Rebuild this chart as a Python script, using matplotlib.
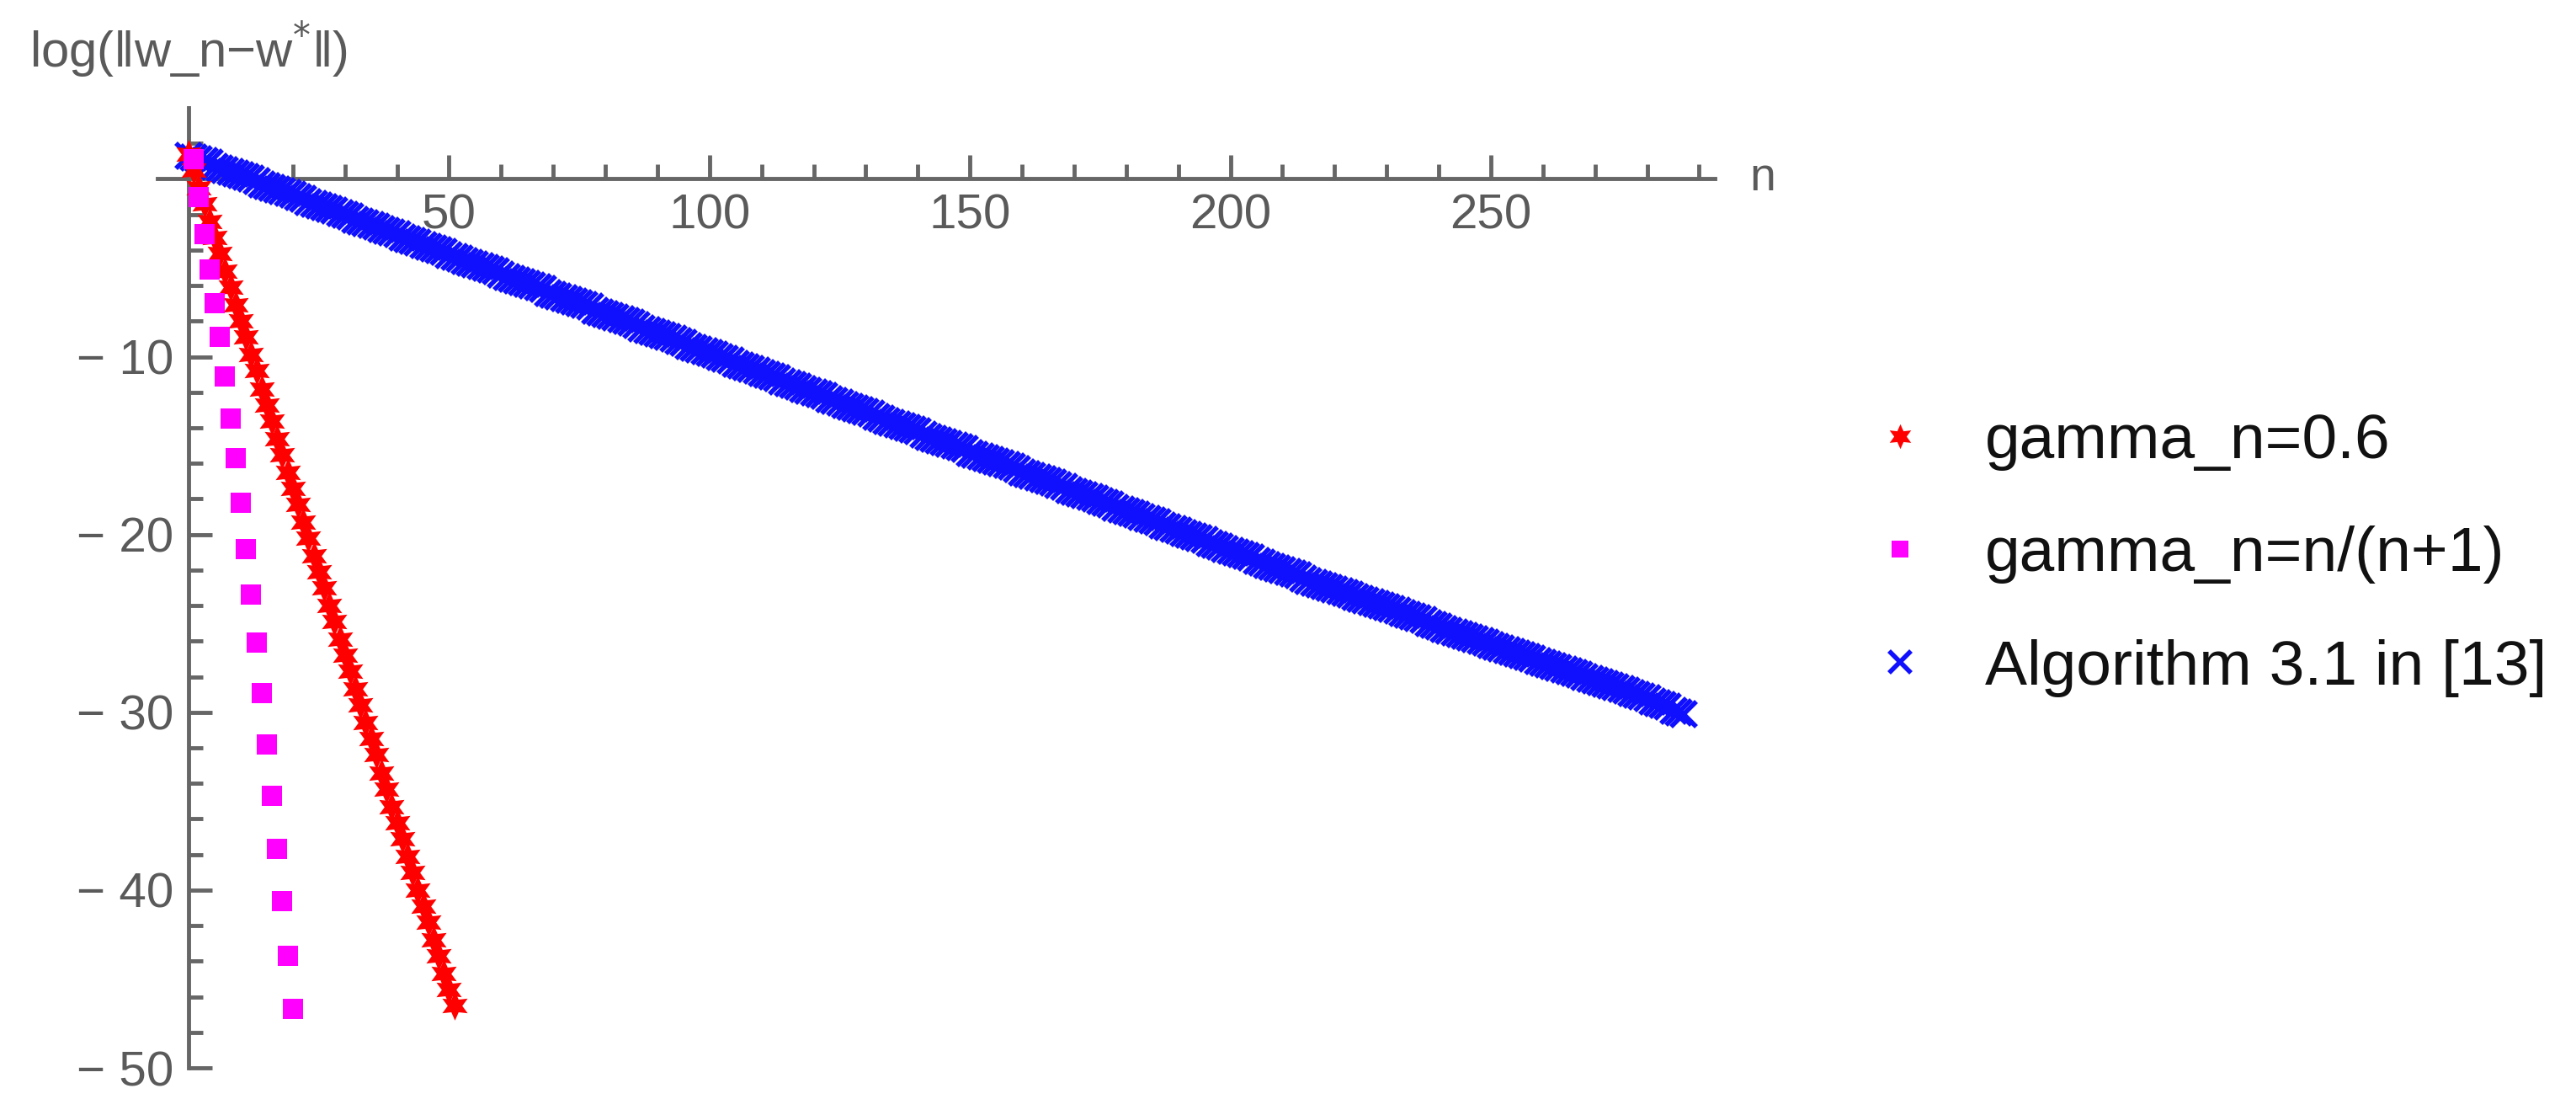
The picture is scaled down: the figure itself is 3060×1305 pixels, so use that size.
import matplotlib
matplotlib.use("Agg")
import matplotlib.pyplot as plt
from matplotlib.ticker import FixedLocator
import matplotlib.transforms as mtransforms

plt.rcParams['font.family'] = ['Liberation Sans', 'DejaVu Sans']

# ---------------- data ----------------
red_label = "gamma_n=0.6"
red_n = list(range(0, 52))
red_v = [1.4, 0.5, -0.5, -1.4, -2.4, -3.3, -4.2, -5.2, -6.1, -7.1,
         -8.0, -8.9, -9.9, -10.8, -11.8, -12.7, -13.6, -14.6, -15.5, -16.5,
         -17.4, -18.3, -19.3, -20.2, -21.2, -22.1, -23.0, -24.0, -24.9, -25.9,
         -26.8, -27.7, -28.7, -29.6, -30.6, -31.5, -32.4, -33.4, -34.3, -35.3,
         -36.2, -37.1, -38.1, -39.0, -40.0, -40.9, -41.8, -42.8, -43.7, -44.7,
         -45.6, -46.5]

mag_label = "gamma_n=n/(n+1)"
mag_n = list(range(1, 21))
mag_v = [1.1, -1.0, -3.1, -5.1, -7.0, -8.9, -11.1, -13.5, -15.7, -18.2,
         -20.8, -23.4, -26.1, -28.9, -31.8, -34.7, -37.7, -40.6, -43.7, -46.7]

blue_label = "Algorithm 3.1 in [13]"
blue_n = list(range(0, 288))
blue_v = [1.3, 1.2, 1.1, 1.0, 0.9, 0.7, 0.6, 0.5, 0.4, 0.3,
          0.2, 0.1, 0.0, -0.1, -0.3, -0.4, -0.5, -0.6, -0.7, -0.8,
          -0.9, -1.0, -1.1, -1.3, -1.4, -1.5, -1.6, -1.7, -1.8, -1.9,
          -2.0, -2.1, -2.3, -2.4, -2.5, -2.6, -2.7, -2.8, -2.9, -3.0,
          -3.1, -3.3, -3.4, -3.5, -3.6, -3.7, -3.8, -3.9, -4.0, -4.1,
          -4.3, -4.4, -4.5, -4.6, -4.7, -4.8, -4.9, -5.0, -5.1, -5.2,
          -5.4, -5.5, -5.6, -5.7, -5.8, -5.9, -6.0, -6.1, -6.2, -6.4,
          -6.5, -6.6, -6.7, -6.8, -6.9, -7.0, -7.1, -7.2, -7.4, -7.5,
          -7.6, -7.7, -7.8, -7.9, -8.0, -8.1, -8.2, -8.4, -8.5, -8.6,
          -8.7, -8.8, -8.9, -9.0, -9.1, -9.2, -9.4, -9.5, -9.6, -9.7,
          -9.8, -9.9, -10.0, -10.1, -10.2, -10.4, -10.5, -10.6, -10.7, -10.8,
          -10.9, -11.0, -11.1, -11.2, -11.4, -11.5, -11.6, -11.7, -11.8, -11.9,
          -12.0, -12.1, -12.2, -12.4, -12.5, -12.6, -12.7, -12.8, -12.9, -13.0,
          -13.1, -13.2, -13.4, -13.5, -13.6, -13.7, -13.8, -13.9, -14.0, -14.1,
          -14.2, -14.4, -14.5, -14.6, -14.7, -14.8, -14.9, -15.0, -15.1, -15.2,
          -15.4, -15.5, -15.6, -15.7, -15.8, -15.9, -16.0, -16.1, -16.2, -16.3,
          -16.5, -16.6, -16.7, -16.8, -16.9, -17.0, -17.1, -17.2, -17.3, -17.5,
          -17.6, -17.7, -17.8, -17.9, -18.0, -18.1, -18.2, -18.3, -18.5, -18.6,
          -18.7, -18.8, -18.9, -19.0, -19.1, -19.2, -19.3, -19.5, -19.6, -19.7,
          -19.8, -19.9, -20.0, -20.1, -20.2, -20.3, -20.5, -20.6, -20.7, -20.8,
          -20.9, -21.0, -21.1, -21.2, -21.3, -21.5, -21.6, -21.7, -21.8, -21.9,
          -22.0, -22.1, -22.2, -22.3, -22.5, -22.6, -22.7, -22.8, -22.9, -23.0,
          -23.1, -23.2, -23.3, -23.4, -23.5, -23.6, -23.7, -23.8, -23.9, -24.0,
          -24.1, -24.2, -24.3, -24.4, -24.5, -24.6, -24.7, -24.8, -25.0, -25.1,
          -25.2, -25.3, -25.4, -25.5, -25.6, -25.7, -25.8, -25.9, -26.0, -26.1,
          -26.2, -26.3, -26.4, -26.5, -26.6, -26.7, -26.8, -26.9, -27.0, -27.1,
          -27.2, -27.3, -27.4, -27.5, -27.6, -27.7, -27.8, -27.9, -28.0, -28.1,
          -28.2, -28.3, -28.4, -28.5, -28.6, -28.7, -28.8, -28.9, -29.0, -29.1,
          -29.2, -29.4, -29.5, -29.6, -29.7, -29.9, -30.0, -30.1]

x_major = [50, 100, 150, 200, 250]
x_minor = [10, 20, 30, 40, 60, 70, 80, 90, 110, 120, 130, 140, 160, 170, 180, 190,
           210, 220, 230, 240, 260, 270, 280, 290]
y_major = [-10, -20, -30, -40, -50]
y_major_labels = ["\u2212 10", "\u2212 20", "\u2212 30", "\u2212 40", "\u2212 50"]
y_minor = [2, -2, -4, -6, -8, -12, -14, -16, -18, -22, -24, -26, -28,
           -32, -34, -36, -38, -42, -44, -46, -48]
x_label = "n"
y_label = "log(\u2016w_n\u2212w$^{*}$\u2016)"

# ---------------- figure ----------------
W, H = 3060, 1305
fig = plt.figure(figsize=(W / 100, H / 100), dpi=100)
ax = fig.add_axes([187 / W, 37 / H, (2037 - 187) / W, (1268 - 128) / H])
ax.set_xlim(-6, 293)
ax.set_ylim(-50, 4)

axis_col = "#666666"
for s in ["top", "right"]:
    ax.spines[s].set_visible(False)
ax.spines["left"].set_position(("data", 0))
ax.spines["bottom"].set_position(("data", 0))
for s in ["left", "bottom"]:
    ax.spines[s].set_color(axis_col)
    ax.spines[s].set_linewidth(3.5)
    ax.spines[s].set_zorder(1)

ax.xaxis.set_major_locator(FixedLocator(x_major))
ax.xaxis.set_minor_locator(FixedLocator(x_minor))
ax.set_xticklabels([str(v) for v in x_major])
ax.set_yticks(y_major)
ax.set_yticklabels(y_major_labels)
ax.yaxis.set_minor_locator(FixedLocator(y_minor))

ax.tick_params(axis="both", which="both", direction="in", color=axis_col,
               width=3.5, labelcolor="#5a5a5a", labelsize=42)
ax.tick_params(axis="x", which="major", length=20, pad=12)
ax.tick_params(axis="x", which="minor", length=12)
ax.tick_params(axis="y", which="major", length=20, pad=13)
ax.tick_params(axis="y", which="minor", length=12)

# data
ax.plot(blue_n, blue_v, linestyle="none", marker="x", markersize=22,
        markeredgewidth=4, color="#1010ff", label=blue_label, zorder=3, clip_on=False)
ax.plot(red_n, red_v, linestyle="none", marker=(6, 1, 0), markersize=25,
        markeredgewidth=0, color="#ff0000", label=red_label, zorder=4, clip_on=False)
ax.plot(mag_n, mag_v, linestyle="none", marker="s", markersize=17,
        markeredgewidth=0, color="#ff00ff", label=mag_label, zorder=5, clip_on=False)

# axis labels
trans_x = mtransforms.blended_transform_factory(ax.transAxes, ax.transData)
ax.annotate(x_label, xy=(1.0, 0), xycoords=trans_x, xytext=(30, 0),
            textcoords="offset points", ha="left", va="center",
            fontsize=40, color="#5a5a5a", annotation_clip=False)
trans_y = mtransforms.blended_transform_factory(ax.transData, ax.transAxes)
ax.annotate(y_label, xy=(0, 1.0), xycoords=trans_y, xytext=(0, 50),
            textcoords="offset points", ha="center", va="center",
            fontsize=43, color="#5a5a5a", annotation_clip=False)

# legend
handles, labels = ax.get_legend_handles_labels()
order = [1, 2, 0]
leg = fig.legend([handles[i] for i in order], [labels[i] for i in order],
                 loc="upper left", bbox_to_anchor=(2219 / W, 1 - 490 / H),
                 frameon=False, fontsize=54, handlelength=1.0,
                 handletextpad=0.85, labelspacing=0.87, borderpad=0,
                 borderaxespad=0, markerscale=0.85)
for t in leg.get_texts():
    t.set_color("#111111")

fig.savefig("out.png", dpi=100, facecolor="white")
